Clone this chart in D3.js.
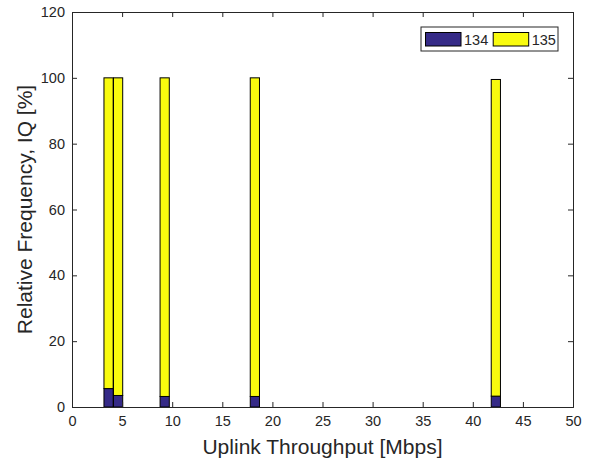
<!DOCTYPE html>
<html>
<head>
<meta charset="utf-8">
<script src="https://cdn.jsdelivr.net/npm/d3@7"></script>
<style>
  body { margin: 0; background: #fff; }
  text { font-family: "Liberation Sans", Arial, sans-serif; fill: #262626; }
</style>
</head>
<body>
<svg id="chart" width="590" height="462"></svg>
<script>
// bin centres (Mbps) and stacked relative frequencies
const binCenters = [3.65, 4.6, 9.25, 18.25, 42.3];
const binWidth = 0.92;
const series134 = [5.6, 3.5, 3.2, 3.2, 3.3];
const series135 = [94.4, 96.5, 96.8, 96.8, 96.2];
const seriesNames = ["134", "135"];
const seriesColors = ["#352a87", "#f9fb0e"];
const xTicks = [0, 5, 10, 15, 20, 25, 30, 35, 40, 45, 50];
const yTicks = [0, 20, 40, 60, 80, 100, 120];

const margin = { left: 72, right: 17, top: 12, bottom: 55 };
const width = 590, height = 462;
const svg = d3.select("#chart");

const x = d3.scaleLinear().domain([0, 50]).range([margin.left, width - margin.right]);
const y = d3.scaleLinear().domain([0, 120]).range([height - margin.bottom, margin.top]);

// stack the two series
const rows = binCenters.map((c, i) => ({ c, s134: series134[i], s135: series135[i] }));
const stacked = d3.stack().keys(["s134", "s135"])(rows);

svg.append("g")
  .selectAll("g")
  .data(stacked)
  .enter()
  .append("g")
  .attr("fill", (d, i) => seriesColors[i])
  .selectAll("rect")
  .data(d => d)
  .enter()
  .append("rect")
  .attr("x", d => x(d.data.c - binWidth / 2))
  .attr("width", d => x(d.data.c + binWidth / 2) - x(d.data.c - binWidth / 2))
  .attr("y", d => y(d[1]))
  .attr("height", d => y(d[0]) - y(d[1]))
  .attr("stroke", "#000")
  .attr("stroke-width", 1);

// axes with inward ticks (box on)
const axisColor = "#262626";
const axBottom = svg.append("g")
  .attr("transform", `translate(0,${y(0)})`)
  .call(d3.axisBottom(x).tickValues(xTicks).tickSize(-5).tickPadding(9));
const axTop = svg.append("g")
  .attr("transform", `translate(0,${y(120)})`)
  .call(d3.axisTop(x).tickValues(xTicks).tickSize(-5).tickFormat(""));
const axLeft = svg.append("g")
  .attr("transform", `translate(${x(0)},0)`)
  .call(d3.axisLeft(y).tickValues(yTicks).tickSize(-5).tickPadding(7));
const axRight = svg.append("g")
  .attr("transform", `translate(${x(50)},0)`)
  .call(d3.axisRight(y).tickValues(yTicks).tickSize(-5).tickFormat(""));

[axBottom, axTop, axLeft, axRight].forEach(g => {
  g.select(".domain").attr("stroke", axisColor).attr("stroke-width", 1);
  g.selectAll(".tick line").attr("stroke", axisColor);
  g.selectAll(".tick text").attr("font-size", 14.5).style("fill", axisColor)
    .attr("font-family", "Liberation Sans, Arial, sans-serif");
});

// axis labels
svg.append("text")
  .attr("x", (x(0) + x(50)) / 2)
  .attr("y", 454)
  .attr("text-anchor", "middle")
  .attr("font-size", 21)
  .text("Uplink Throughput [Mbps]");

svg.append("text")
  .attr("transform", `translate(32,${(y(0) + y(120)) / 2}) rotate(-90)`)
  .attr("text-anchor", "middle")
  .attr("font-size", 21)
  .text("Relative Frequency, IQ [%]");

// legend
const legend = svg.append("g");
legend.append("rect")
  .attr("x", 421).attr("y", 27)
  .attr("width", 137).attr("height", 24)
  .attr("fill", "#fff").attr("stroke", axisColor).attr("stroke-width", 1);

const legendItems = legend.selectAll(".item")
  .data(seriesNames)
  .enter()
  .append("g")
  .attr("class", "item")
  .attr("transform", (d, i) => `translate(${425.5 + i * 67.7},0)`);

legendItems.append("rect")
  .attr("x", 0).attr("y", 32.5)
  .attr("width", 35.5).attr("height", 13.5)
  .attr("fill", (d, i) => seriesColors[i])
  .attr("stroke", "#000");

legendItems.append("text")
  .attr("x", 38.5).attr("y", 45)
  .attr("font-size", 14.5)
  .text(d => d);
</script>
</body>
</html>
